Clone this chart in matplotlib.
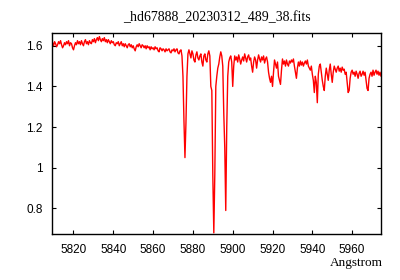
import matplotlib
matplotlib.use('Agg')
import matplotlib.pyplot as plt

# spectrum (wavelength in Angstrom, flux)
wave = [5809.0, 5809.5, 5810.0, 5810.5, 5811.0, 5811.5, 5812.0, 5812.5, 5813.0, 5813.5,
        5814.0, 5814.5, 5815.0, 5815.5, 5816.0, 5816.5, 5817.0, 5817.5, 5818.0, 5818.5,
        5819.0, 5819.5, 5820.0, 5820.5, 5821.0, 5821.5, 5822.0, 5822.5, 5823.0, 5823.5,
        5824.0, 5824.5, 5825.0, 5825.5, 5826.0, 5826.5, 5827.0, 5827.5, 5828.0, 5828.5,
        5829.0, 5829.5, 5830.0, 5830.5, 5831.0, 5831.5, 5832.0, 5832.5, 5833.0, 5833.5,
        5834.0, 5834.5, 5835.0, 5835.5, 5836.0, 5836.5, 5837.0, 5837.5, 5838.0, 5838.5,
        5839.0, 5839.5, 5840.0, 5840.5, 5841.0, 5841.5, 5842.0, 5842.5, 5843.0, 5843.5,
        5844.0, 5844.5, 5845.0, 5845.5, 5846.0, 5846.5, 5847.0, 5847.5, 5848.0, 5848.5,
        5849.0, 5849.5, 5850.0, 5850.5, 5851.0, 5851.5, 5852.0, 5852.5, 5853.0, 5853.5,
        5854.0, 5854.5, 5855.0, 5855.5, 5856.0, 5856.5, 5857.0, 5857.5, 5858.0, 5858.5,
        5859.0, 5859.5, 5860.0, 5860.5, 5861.0, 5861.5, 5862.0, 5862.5, 5863.0, 5863.5,
        5864.0, 5864.5, 5865.0, 5865.5, 5866.0, 5866.5, 5867.0, 5867.5, 5868.0, 5868.5,
        5869.0, 5869.5, 5870.0, 5870.5, 5871.0, 5871.5, 5872.0, 5872.5, 5873.0, 5873.5,
        5874.0, 5874.5, 5875.0, 5875.5, 5876.0, 5876.5, 5877.0, 5877.5, 5878.0, 5878.5,
        5879.0, 5879.5, 5880.0, 5880.5, 5881.0, 5881.5, 5882.0, 5882.5, 5883.0, 5883.5,
        5884.0, 5884.5, 5885.0, 5885.5, 5886.0, 5886.5, 5887.0, 5887.5, 5888.0, 5888.5,
        5889.0, 5889.5, 5890.0, 5890.5, 5891.0, 5891.5, 5892.0, 5892.5, 5893.0, 5893.5,
        5894.0, 5894.5, 5895.0, 5895.5, 5896.0, 5896.5, 5897.0, 5897.5, 5898.0, 5898.5,
        5899.0, 5899.5, 5900.0, 5900.5, 5901.0, 5901.5, 5902.0, 5902.5, 5903.0, 5903.5,
        5904.0, 5904.5, 5905.0, 5905.5, 5906.0, 5906.5, 5907.0, 5907.5, 5908.0, 5908.5,
        5909.0, 5909.5, 5910.0, 5910.5, 5911.0, 5911.5, 5912.0, 5912.5, 5913.0, 5913.5,
        5914.0, 5914.5, 5915.0, 5915.5, 5916.0, 5916.5, 5917.0, 5917.5, 5918.0, 5918.5,
        5919.0, 5919.5, 5920.0, 5920.5, 5921.0, 5921.5, 5922.0, 5922.5, 5923.0, 5923.5,
        5924.0, 5924.5, 5925.0, 5925.5, 5926.0, 5926.5, 5927.0, 5927.5, 5928.0, 5928.5,
        5929.0, 5929.5, 5930.0, 5930.5, 5931.0, 5931.5, 5932.0, 5932.5, 5933.0, 5933.5,
        5934.0, 5934.5, 5935.0, 5935.5, 5936.0, 5936.5, 5937.0, 5937.5, 5938.0, 5938.5,
        5939.0, 5939.5, 5940.0, 5940.5, 5941.0, 5941.5, 5942.0, 5942.5, 5943.0, 5943.5,
        5944.0, 5944.5, 5945.0, 5945.5, 5946.0, 5946.5, 5947.0, 5947.5, 5948.0, 5948.5,
        5949.0, 5949.5, 5950.0, 5950.5, 5951.0, 5951.5, 5952.0, 5952.5, 5953.0, 5953.5,
        5954.0, 5954.5, 5955.0, 5955.5, 5956.0, 5956.5, 5957.0, 5957.5, 5958.0, 5958.5,
        5959.0, 5959.5, 5960.0, 5960.5, 5961.0, 5961.5, 5962.0, 5962.5, 5963.0, 5963.5,
        5964.0, 5964.5, 5965.0, 5965.5, 5966.0, 5966.5, 5967.0, 5967.5, 5968.0, 5968.5,
        5969.0, 5969.5, 5970.0, 5970.5, 5971.0, 5971.5, 5972.0, 5972.5, 5973.0, 5973.5,
        5974.0, 5974.5, 5975.0]

flux = [1.620, 1.615, 1.600, 1.620, 1.610, 1.595, 1.605, 1.620, 1.610, 1.625,
        1.605, 1.590, 1.600, 1.615, 1.605, 1.620, 1.610, 1.625, 1.600, 1.615,
        1.610, 1.590, 1.580, 1.600, 1.615, 1.605, 1.625, 1.610, 1.620, 1.605,
        1.625, 1.610, 1.600, 1.620, 1.630, 1.610, 1.620, 1.605, 1.625, 1.615,
        1.610, 1.630, 1.620, 1.635, 1.615, 1.630, 1.640, 1.625, 1.645, 1.630,
        1.620, 1.635, 1.625, 1.640, 1.620, 1.630, 1.615, 1.630, 1.620, 1.610,
        1.625, 1.615, 1.620, 1.605, 1.600, 1.615, 1.610, 1.620, 1.600, 1.610,
        1.620, 1.600, 1.610, 1.595, 1.610, 1.600, 1.590, 1.605, 1.610, 1.595,
        1.605, 1.590, 1.600, 1.585, 1.575, 1.595, 1.605, 1.595, 1.610, 1.600,
        1.590, 1.605, 1.600, 1.590, 1.600, 1.585, 1.600, 1.590, 1.595, 1.580,
        1.595, 1.585, 1.590, 1.580, 1.595, 1.585, 1.590, 1.575, 1.570, 1.590,
        1.585, 1.575, 1.585, 1.580, 1.570, 1.585, 1.575, 1.580, 1.585, 1.570,
        1.565, 1.580, 1.575, 1.585, 1.570, 1.580, 1.585, 1.565, 1.560, 1.575,
        1.580, 1.550, 1.450, 1.230, 1.050, 1.220, 1.450, 1.560, 1.580, 1.560,
        1.540, 1.575, 1.560, 1.530, 1.520, 1.555, 1.570, 1.540, 1.530, 1.550,
        1.560, 1.520, 1.500, 1.550, 1.560, 1.530, 1.520, 1.560, 1.575, 1.550,
        1.400, 1.380, 0.960, 0.680, 0.970, 1.400, 1.450, 1.490, 1.510, 1.545,
        1.570, 1.550, 1.500, 1.270, 1.100, 0.790, 1.200, 1.450, 1.520, 1.540,
        1.550, 1.520, 1.400, 1.500, 1.550, 1.530, 1.545, 1.520, 1.555, 1.535,
        1.510, 1.530, 1.545, 1.525, 1.560, 1.540, 1.520, 1.545, 1.555, 1.530,
        1.540, 1.500, 1.470, 1.520, 1.545, 1.530, 1.490, 1.530, 1.555, 1.535,
        1.520, 1.545, 1.530, 1.550, 1.515, 1.535, 1.545, 1.520, 1.470, 1.440,
        1.420, 1.450, 1.400, 1.470, 1.530, 1.510, 1.490, 1.520, 1.450, 1.430,
        1.410, 1.480, 1.535, 1.510, 1.525, 1.500, 1.530, 1.510, 1.500, 1.525,
        1.515, 1.530, 1.520, 1.535, 1.500, 1.470, 1.440, 1.490, 1.520, 1.500,
        1.525, 1.505, 1.520, 1.500, 1.515, 1.525, 1.510, 1.530, 1.500, 1.490,
        1.480, 1.500, 1.460, 1.430, 1.370, 1.450, 1.420, 1.320, 1.460, 1.500,
        1.510, 1.470, 1.430, 1.400, 1.380, 1.450, 1.490, 1.460, 1.430, 1.480,
        1.510, 1.460, 1.420, 1.470, 1.500, 1.485, 1.470, 1.490, 1.500, 1.475,
        1.490, 1.470, 1.495, 1.480, 1.485, 1.460, 1.470, 1.420, 1.370, 1.380,
        1.440, 1.470, 1.480, 1.460, 1.470, 1.450, 1.475, 1.460, 1.440, 1.465,
        1.475, 1.450, 1.460, 1.475, 1.455, 1.470, 1.430, 1.390, 1.380, 1.440,
        1.460, 1.470, 1.450, 1.480, 1.455, 1.470, 1.480, 1.460, 1.475, 1.455,
        1.470, 1.450, 1.460]

xticks = [5820, 5840, 5860, 5880, 5900, 5920, 5940, 5960]
yticks = [0.8, 1.0, 1.2, 1.4, 1.6]
yticklabels = ['0.8', '1', '1.2', '1.4', '1.6']

fig = plt.figure(figsize=(4, 2.8), dpi=100)
ax = fig.add_axes([0.131, 0.164, 0.821, 0.718])
ax.plot(wave, flux, color='#ff0000', lw=1.0)

ax.set_xlim(5809.4, 5974.4)
ax.set_ylim(0.674, 1.6625)
ax.set_xticks(xticks)
ax.set_yticks(yticks)
ax.set_yticklabels(yticklabels)
ax.tick_params(direction='in', length=3, width=0.8, top=True, right=True,
               labelsize=8.5, pad=7)
for lab in ax.get_xticklabels() + ax.get_yticklabels():
    lab.set_family('Liberation Sans')
for s in ax.spines.values():
    s.set_linewidth(1.0)

ax.set_title('_hd67888_20230312_489_38.fits', family='Liberation Serif',
             fontsize=10, pad=8.5)
fig.text(383 / 400, 1 - 263 / 280, 'Angstrom', family='Liberation Serif',
         fontsize=9.5, ha='right', va='center')

fig.savefig('out.png', dpi=100)
